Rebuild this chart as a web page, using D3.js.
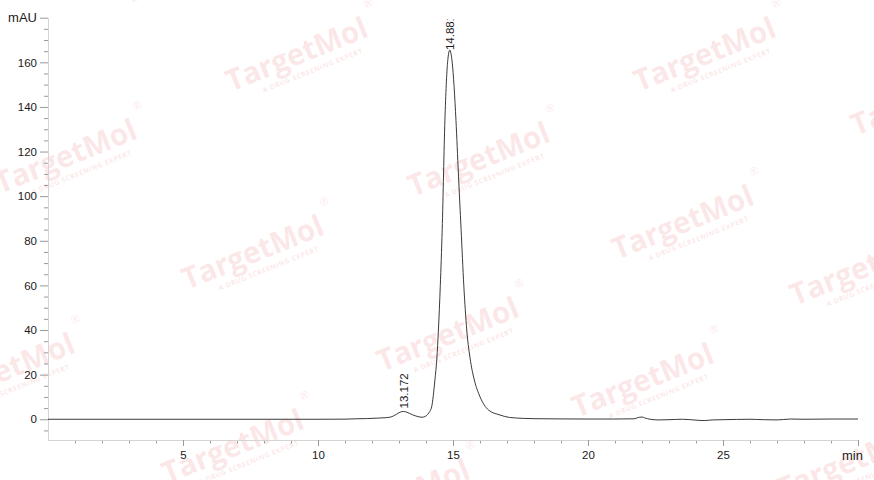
<!DOCTYPE html>
<html>
<head>
<meta charset="utf-8">
<script src="https://cdn.jsdelivr.net/npm/d3@7"></script>
<style>
  html, body { margin: 0; padding: 0; background: #fff; }
  svg { display: block; }
</style>
</head>
<body>
<svg id="chart" width="874" height="480"></svg>
<script>
// ---- data ----
const times = [0, 5, 10, 11.0, 11.4, 11.8, 12.2, 12.5, 12.7, 12.9, 13.05, 13.17, 13.3, 13.5, 13.7, 13.85,
  13.96, 14.1, 14.21, 14.33, 14.4, 14.46, 14.53, 14.6, 14.7, 14.8, 14.88, 14.97, 15.11, 15.2, 15.3, 15.4,
  15.51, 15.65, 15.79, 16.0, 16.31, 16.74, 17.1, 17.6, 18, 19, 20, 21, 21.7, 21.9, 22.0, 22.1, 22.3, 22.6,
  23, 23.5, 24.0, 24.3, 24.6, 25, 26, 26.5, 27, 27.5, 28, 29, 30];
const mAU = [0, 0, 0, 0.05, 0.2, 0.3, 0.5, 0.7, 1.0, 2.2, 3.2, 3.5, 3.1, 2.0, 1.2, 0.9,
  1.2, 2.8, 5.6, 17.6, 27, 40, 60, 85, 134, 160, 165.5, 160, 134, 110, 85, 60,
  40, 26, 17.6, 10.1, 4.2, 1.9, 0.8, 0.4, 0.25, 0.15, 0.1, 0.1, 0.2, 0.9, 1.0, 0.6, 0.0, -0.3,
  -0.2, 0.0, -0.4, -0.6, -0.3, -0.2, 0.0, -0.2, -0.3, 0.1, 0.0, 0.1, 0.1];
const peakTimes = [13.172, 14.881];
const peakHeights = [3.5, 165.5];
const peakLabels = ["13.172", "14.881"];
const xMajorTicks = [5, 10, 15, 20, 25, 30];
const xTickLabels = ["5", "10", "15", "20", "25", "min"];
const yMajorTicks = [0, 20, 40, 60, 80, 100, 120, 140, 160, 180];
const yTickLabels = ["0", "20", "40", "60", "80", "100", "120", "140", "160", "mAU"];
const watermarkStarts = [[100, 2], [231, 92], [639, 92], [0, 194], [413, 197], [856, 136], [187, 290],
  [617, 260], [795, 306], [-62, 408], [382, 372], [577, 418], [167, 484], [333, 534], [782, 500]];

// ---- layout ----
const svg = d3.select("#chart");
const x = d3.scaleLinear().domain([0, 30]).range([48, 858]);
const y = d3.scaleLinear().domain([-9.3, 180]).range([440, 17.7]);

// ---- watermarks ----
const wmFont = "'Open Sans', sans-serif";
const wm = svg.append("g").attr("class", "watermarks");
watermarkStarts.forEach(([sx, sy]) => {
  const g = wm.append("g").attr("transform", `translate(${sx},${sy}) rotate(-22)`)
    .attr("fill", "rgb(232,105,105)").attr("fill-opacity", 0.17);
  g.append("text").attr("x", 0).attr("y", 0)
    .attr("font-family", wmFont).attr("font-weight", 700)
    .attr("font-size", 30).attr("textLength", 150).attr("lengthAdjust", "spacingAndGlyphs")
    .text("TargetMol");
  g.append("text").attr("x", 156).attr("y", -27)
    .attr("font-family", wmFont).attr("font-size", 11).text("®");
  g.append("text").attr("x", 30).attr("y", 13)
    .attr("font-family", wmFont).attr("font-weight", 700)
    .attr("font-size", 7).attr("textLength", 107).attr("lengthAdjust", "spacing")
    .text("A DRUG SCREENING EXPERT");
});

// ---- axes ----
const font = "'Liberation Sans', Arial, sans-serif";

const yMinor = d3.range(-5, 180, 5).filter(v => v % 20 !== 0);
svg.append("g").attr("transform", "translate(48,0)")
  .call(d3.axisLeft(y).tickValues(yMinor).tickSize(4).tickSizeOuter(0).tickFormat(""))
  .call(g => g.select(".domain").remove())
  .call(g => g.selectAll(".tick line").attr("stroke", "#9a9a9a"));

const yAxis = svg.append("g").attr("transform", "translate(48,0)")
  .call(d3.axisLeft(y).tickValues(yMajorTicks).tickSize(8).tickSizeOuter(0).tickPadding(3)
    .tickFormat((d, i) => yTickLabels[i]));
yAxis.select(".domain").attr("stroke", "#d4d4d4");
yAxis.selectAll(".tick line").attr("stroke", "#9a9a9a");
yAxis.selectAll(".tick text").attr("font-family", font).attr("fill", "#1a1a1a")
  .attr("font-size", (d) => d === 180 ? 13 : 11.5);

const xMinor = d3.range(1, 30, 1).filter(v => v % 5 !== 0);
svg.append("g").attr("transform", "translate(0,440)")
  .call(d3.axisBottom(x).tickValues(xMinor).tickSize(3.5).tickSizeOuter(0).tickFormat(""))
  .call(g => g.select(".domain").remove())
  .call(g => g.selectAll(".tick line").attr("stroke", "#9a9a9a"));

const xAxis = svg.append("g").attr("transform", "translate(0,440)")
  .call(d3.axisBottom(x).tickValues(xMajorTicks).tickSize(6).tickSizeOuter(0).tickPadding(5)
    .tickFormat((d, i) => xTickLabels[i]));
xAxis.select(".domain").attr("stroke", "#d4d4d4");
xAxis.selectAll(".tick line").attr("stroke", "#9a9a9a");
xAxis.selectAll(".tick text").attr("font-family", font).attr("fill", "#1a1a1a")
  .attr("font-size", (d) => d === 30 ? 13 : 11.5)
  .attr("dx", (d) => d === 30 ? -6 : 0);

// ---- clips ----
const defs = svg.append("defs");
defs.append("clipPath").attr("id", "plotclip")
  .append("rect").attr("x", 48).attr("y", 17.7).attr("width", 826).attr("height", 422.3);
defs.append("clipPath").attr("id", "labelclip")
  .append("rect").attr("x", 48).attr("y", 19.5).attr("width", 826).attr("height", 420.5);

// ---- trace ----
const pts = times.map((t, i) => [t, mAU[i]]);
const line = d3.line().x(d => x(d[0])).y(d => y(d[1])).curve(d3.curveMonotoneX);
svg.append("path").datum(pts).attr("clip-path", "url(#plotclip)")
  .attr("d", line).attr("fill", "none").attr("stroke", "#3a3a3a").attr("stroke-width", 1);

// ---- peak labels ----
const lbl = svg.append("g").attr("clip-path", "url(#labelclip)");
peakTimes.forEach((t, i) => {
  const px = x(t), py = y(peakHeights[i]) - (i === 1 ? 0 : 3);
  lbl.append("text")
    .attr("transform", `translate(${px},${py}) rotate(-90)`)
    .attr("dy", "0.35em")
    .attr("font-family", font).attr("font-size", 11.5).attr("fill", "#1a1a1a")
    .text(peakLabels[i]);
});
</script>
</body>
</html>
